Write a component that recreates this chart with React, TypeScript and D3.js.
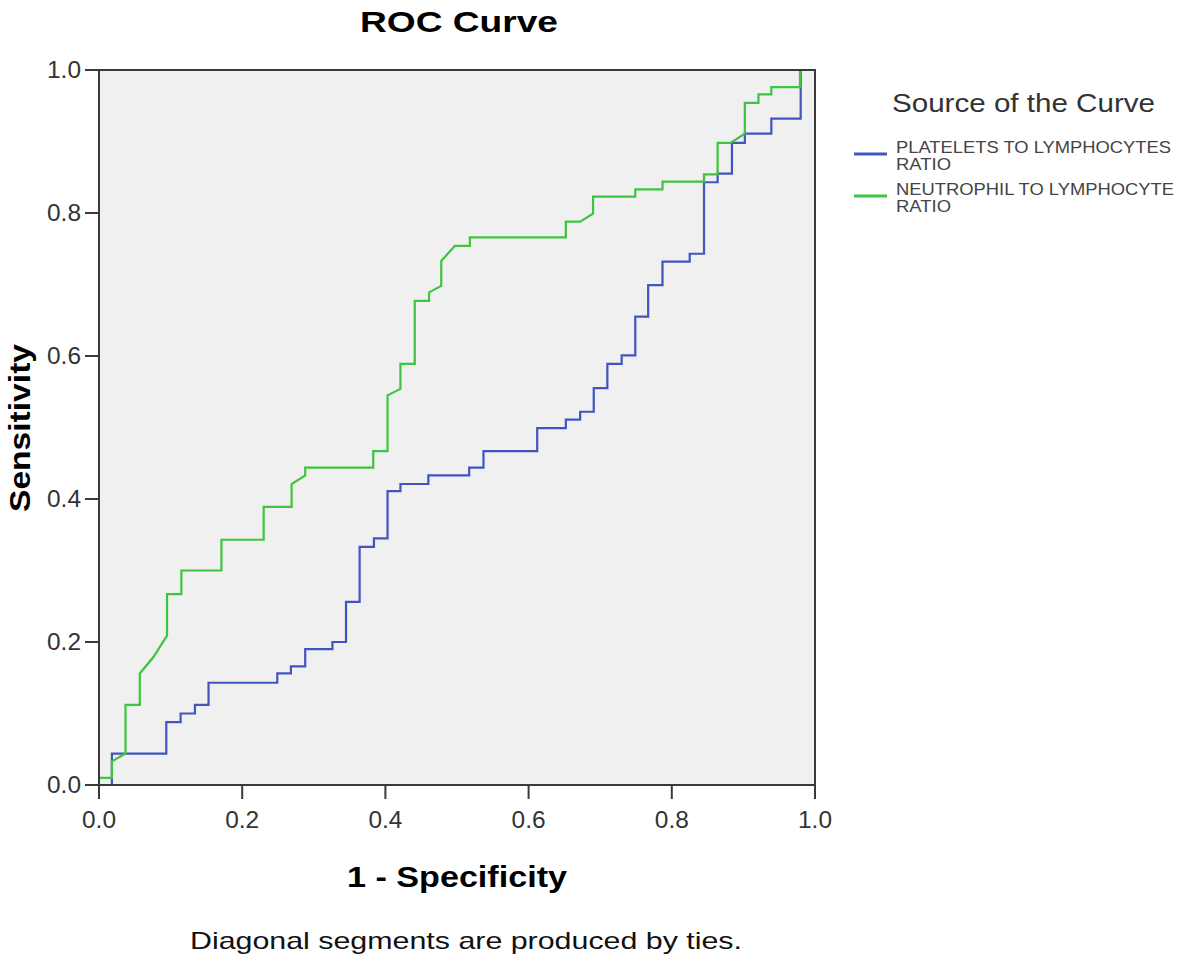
import React from "react";
import * as d3 from "d3";

// 1 - Specificity (FPR) and Sensitivity (TPR) vertices
const plrFpr = [0, 0.018, 0.018, 0.094, 0.094, 0.114, 0.114, 0.134, 0.134, 0.153, 0.153, 0.249, 0.249, 0.268, 0.268, 0.288, 0.288, 0.326, 0.326, 0.345, 0.345, 0.364, 0.364, 0.384, 0.384, 0.403, 0.403, 0.421, 0.421, 0.46, 0.46, 0.517, 0.517, 0.537, 0.537, 0.612, 0.612, 0.652, 0.652, 0.672, 0.672, 0.691, 0.691, 0.71, 0.71, 0.73, 0.73, 0.749, 0.749, 0.767, 0.767, 0.787, 0.787, 0.825, 0.825, 0.845, 0.845, 0.864, 0.864, 0.884, 0.884, 0.902, 0.902, 0.939, 0.939, 0.98, 0.98, 1];
const plrTpr = [0, 0, 0.044, 0.044, 0.088, 0.088, 0.1, 0.1, 0.112, 0.112, 0.143, 0.143, 0.156, 0.156, 0.166, 0.166, 0.19, 0.19, 0.2, 0.2, 0.256, 0.256, 0.333, 0.333, 0.345, 0.345, 0.411, 0.411, 0.421, 0.421, 0.433, 0.433, 0.444, 0.444, 0.467, 0.467, 0.499, 0.499, 0.511, 0.511, 0.522, 0.522, 0.555, 0.555, 0.589, 0.589, 0.601, 0.601, 0.655, 0.655, 0.699, 0.699, 0.732, 0.732, 0.743, 0.743, 0.843, 0.843, 0.855, 0.855, 0.898, 0.898, 0.911, 0.911, 0.932, 0.932, 1, 1];

const nlrFpr = [0, 0, 0.018, 0.018, 0.037, 0.037, 0.057, 0.057, 0.076, 0.095, 0.095, 0.115, 0.115, 0.171, 0.171, 0.23, 0.23, 0.269, 0.269, 0.288, 0.288, 0.383, 0.383, 0.403, 0.403, 0.421, 0.421, 0.441, 0.441, 0.461, 0.461, 0.478, 0.478, 0.497, 0.518, 0.518, 0.652, 0.652, 0.672, 0.69, 0.69, 0.749, 0.749, 0.787, 0.787, 0.845, 0.845, 0.864, 0.864, 0.882, 0.902, 0.902, 0.921, 0.921, 0.939, 0.939, 0.979, 0.979, 1];
const nlrTpr = [0, 0.01, 0.01, 0.033, 0.044, 0.112, 0.112, 0.156, 0.179, 0.209, 0.267, 0.267, 0.3, 0.3, 0.343, 0.343, 0.389, 0.389, 0.421, 0.433, 0.444, 0.444, 0.467, 0.467, 0.545, 0.554, 0.589, 0.589, 0.677, 0.677, 0.689, 0.698, 0.733, 0.754, 0.754, 0.766, 0.766, 0.788, 0.788, 0.799, 0.823, 0.823, 0.833, 0.833, 0.844, 0.844, 0.854, 0.854, 0.898, 0.898, 0.911, 0.954, 0.954, 0.966, 0.966, 0.976, 0.976, 1, 1];

const tickValues = [0, 0.2, 0.4, 0.6, 0.8, 1.0];
const tickLabels = ["0.0", "0.2", "0.4", "0.6", "0.8", "1.0"];

const seriesNames = ["PLATELETS TO LYMPHOCYTES", "NEUTROPHIL TO LYMPHOCYTE"];
const seriesNames2 = ["RATIO", "RATIO"];
const seriesColors = ["#4254c0", "#3ec43e"];

const W = 1181;
const H = 961;
const L = 99, R = 815, T = 70, B = 785;

export default function App() {
  const x = d3.scaleLinear().domain([0, 1]).range([L, R]);
  const y = d3.scaleLinear().domain([0, 1]).range([B, T]);
  const line = d3.line<[number, number]>().x((d) => x(d[0])).y((d) => y(d[1]));
  const plr = plrFpr.map((v, i) => [v, plrTpr[i]] as [number, number]);
  const nlr = nlrFpr.map((v, i) => [v, nlrTpr[i]] as [number, number]);
  const font = "'Liberation Sans', Arial, sans-serif";
  const axisCol = "#3a3a3a";
  return (
    <svg width={W} height={H} style={{ position: "absolute", left: 0, top: 0, background: "#fff" }} fontFamily={font}>
      <rect x={0} y={0} width={W} height={H} fill="#fff" />
      <text x={459} y={32} textAnchor="middle" fontSize={30} fontWeight="bold" fill="#000" textLength={198} lengthAdjust="spacingAndGlyphs">ROC Curve</text>
      <rect x={L} y={T} width={R - L} height={B - T} fill="#f0f0f0" />
      <clipPath id="plotclip"><rect x={L} y={T - 1} width={R - L + 1} height={B - T + 2} /></clipPath>
      <g clipPath="url(#plotclip)">
        <path d={line(plr) || ""} fill="none" stroke={seriesColors[0]} strokeWidth={2.2} />
        <path d={line(nlr) || ""} fill="none" stroke={seriesColors[1]} strokeWidth={2.2} />
      </g>
      <rect x={L} y={T} width={R - L} height={B - T} fill="none" stroke={axisCol} strokeWidth={2} />
      {tickValues.map((t, i) => (
        <g key={"y" + i}>
          <line x1={L - 14} x2={L} y1={y(t)} y2={y(t)} stroke={axisCol} strokeWidth={2} />
          <text x={81} y={y(t) + 8} textAnchor="end" fontSize={24} fill="#333" textLength={34} lengthAdjust="spacingAndGlyphs">{tickLabels[i]}</text>
        </g>
      ))}
      {tickValues.map((t, i) => (
        <g key={"x" + i}>
          <line x1={x(t)} x2={x(t)} y1={B} y2={B + 14} stroke={axisCol} strokeWidth={2} />
          <text x={x(t)} y={828} textAnchor="middle" fontSize={24} fill="#333" textLength={34} lengthAdjust="spacingAndGlyphs">{tickLabels[i]}</text>
        </g>
      ))}
      <text x={457} y={887} textAnchor="middle" fontSize={30} fontWeight="bold" fill="#000" textLength={220} lengthAdjust="spacingAndGlyphs">1 - Specificity</text>
      <text transform="translate(30,428) rotate(-90)" textAnchor="middle" fontSize={30} fontWeight="bold" fill="#000" textLength={168} lengthAdjust="spacingAndGlyphs">Sensitivity</text>
      <text x={466} y={949} textAnchor="middle" fontSize={24} fill="#111" textLength={552} lengthAdjust="spacingAndGlyphs">Diagonal segments are produced by ties.</text>
      <text x={892} y={112} fontSize={25} fill="#333" textLength={263} lengthAdjust="spacingAndGlyphs">Source of the Curve</text>
      {seriesNames.map((n, i) => {
        const ly = 154 + i * 42;
        return (
          <g key={"lg" + i}>
            <line x1={854} x2={887} y1={ly} y2={ly} stroke={seriesColors[i]} strokeWidth={3} />
            <text x={896} y={ly - 1} fontSize={17} fill="#444" textLength={i === 0 ? 275 : 278} lengthAdjust="spacingAndGlyphs">{n}</text>
            <text x={896} y={ly + 16} fontSize={17} fill="#444" textLength={55} lengthAdjust="spacingAndGlyphs">{seriesNames2[i]}</text>
          </g>
        );
      })}
    </svg>
  );
}
